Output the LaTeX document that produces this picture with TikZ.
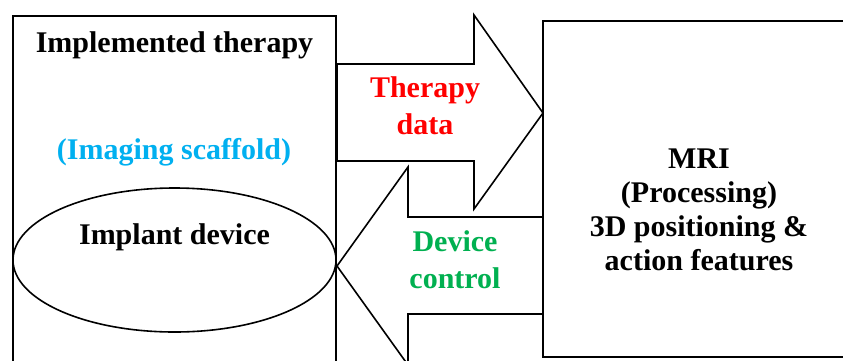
\documentclass[tikz,border=0pt]{standalone}
\usepackage{fontspec}
\setmainfont{Liberation Serif}
\usetikzlibrary{shapes.geometric}
\definecolor{scaffoldblue}{RGB}{0,176,240}
\definecolor{ctrlgreen}{RGB}{0,176,80}
\definecolor{datared}{RGB}{255,0,0}
\begin{document}
\begin{tikzpicture}[x=1pt,y=-1pt,
  outline/.style={draw=black,line width=1.6pt,fill=white,line join=miter},
  lbl/.style={font=\fontsize{30}{34}\selectfont\bfseries,align=center,inner sep=0pt},
  arrowlbl/.style={lbl,font=\fontsize{30}{37}\selectfont\bfseries}]
\useasboundingbox (0,0) rectangle (843,360);

% containers
\draw[outline] (13,375) -- (13,16) -- (336,16) -- (336,375);
\draw[outline] (860,21) -- (543,21) -- (543,357) -- (860,357);

% implant ellipse
\node[outline,ellipse,minimum width=323pt,minimum height=144pt,inner sep=0pt] (implant) at (174.5,260) {};

% block arrows
\draw[outline] (337,64) -- (474,64) -- (474,15) -- (543,113) -- (474,209) -- (474,161) -- (337,161) -- cycle;
\draw[outline] (337,266) -- (408,167) -- (408,217) -- (543,217) -- (543,314) -- (408,314) -- (408,365) -- cycle;

% texts
\node[lbl] (therapy) at (174.5,45) {Implemented therapy};
\node[lbl,text=scaffoldblue] (scaffold) at (174,152) {(Imaging scaffold)};
\node[lbl] (device) at (174.5,237) {Implant device};
\node[arrowlbl,text=datared] (tdata) at (425,106) {Therapy\\data};
\node[arrowlbl,text=ctrlgreen] (dctrl) at (455,260) {Device\\control};
\node[lbl] (mri) at (699,210) {MRI\\(Processing)\\3D positioning \&\\action features};
\end{tikzpicture}
\end{document}
